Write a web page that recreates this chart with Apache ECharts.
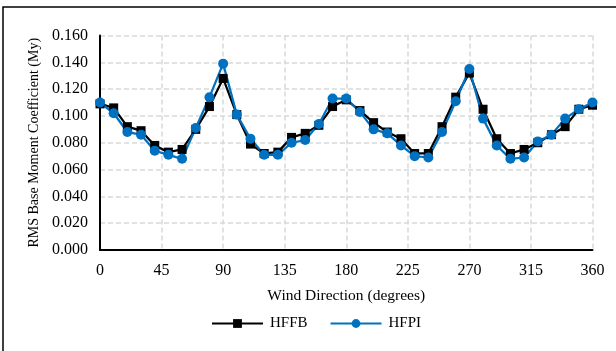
<!DOCTYPE html>
<html>
<head>
<meta charset="utf-8">
<script src="https://cdn.jsdelivr.net/npm/echarts@6/dist/echarts.min.js"></script>
<style>
  html, body { margin: 0; padding: 0; background: #fff; }
  #chart { width: 616px; height: 351px; }
</style>
</head>
<body>
<div id="chart"></div>
<script>
// Wind direction (degrees), every 10°
const directions = [0, 10, 20, 30, 40, 50, 60, 70, 80, 90, 100, 110, 120, 130, 140, 150, 160, 170, 180,
  190, 200, 210, 220, 230, 240, 250, 260, 270, 280, 290, 300, 310, 320, 330, 340, 350, 360];

// RMS base moment coefficient (My)
const hffb = [0.109, 0.106, 0.092, 0.089, 0.078, 0.073, 0.075, 0.090, 0.107, 0.128,
  0.101, 0.079, 0.072, 0.073, 0.084, 0.087, 0.093, 0.107, 0.112, 0.104,
  0.095, 0.088, 0.083, 0.072, 0.072, 0.092, 0.114, 0.132, 0.105, 0.083,
  0.072, 0.075, 0.080, 0.086, 0.092, 0.105, 0.108];
const hfpi = [0.110, 0.102, 0.088, 0.086, 0.074, 0.071, 0.068, 0.091, 0.114, 0.139,
  0.101, 0.083, 0.071, 0.071, 0.080, 0.082, 0.094, 0.113, 0.113, 0.103,
  0.090, 0.087, 0.078, 0.070, 0.069, 0.088, 0.111, 0.135, 0.098, 0.078,
  0.068, 0.069, 0.081, 0.086, 0.098, 0.105, 0.110];

const xTicks = [0, 45, 90, 135, 180, 225, 270, 315, 360];
const yTicks = [0, 0.02, 0.04, 0.06, 0.08, 0.10, 0.12, 0.14, 0.16];

const FONT = '"Liberation Serif", "Times New Roman", serif';
const pairs = (vals) => directions.map((d, i) => [d, vals[i]]);

const chart = echarts.init(document.getElementById('chart'), null, { renderer: 'canvas' });
chart.setOption({
  animation: false,
  backgroundColor: '#fff',
  textStyle: { fontFamily: FONT },
  graphic: [{
    type: 'rect',
    shape: { x: 3, y: 7, width: 640, height: 400 },
    style: { fill: 'none', stroke: '#000', lineWidth: 1.5 },
    silent: true
  }],
  grid: { left: 100, right: 23.5, top: 35.5, bottom: 101, containLabel: false },
  legend: {
    top: 311,
    left: 206,
    itemWidth: 51,
    itemHeight: 11,
    itemGap: 22,
    textStyle: { fontFamily: FONT, fontSize: 15, color: '#000', padding: [0, 0, 0, 2] },
    data: ['HFFB', 'HFPI']
  },
  xAxis: {
    type: 'value',
    min: xTicks[0],
    max: xTicks[xTicks.length - 1],
    interval: 45,
    name: 'Wind Direction (degrees)',
    nameLocation: 'middle',
    nameGap: 38,
    nameTextStyle: { fontFamily: FONT, fontSize: 15.5, color: '#000' },
    axisLine: { show: true, lineStyle: { color: '#000', width: 2 } },
    axisTick: { show: false },
    axisLabel: { fontFamily: FONT, fontSize: 16, color: '#000', margin: 13 },
    splitLine: { show: true, lineStyle: { color: '#d9d9d9', width: 1.5, type: [5, 3] } }
  },
  yAxis: {
    type: 'value',
    min: yTicks[0],
    max: yTicks[yTicks.length - 1],
    interval: 0.02,
    name: 'RMS Base Moment Coefficient (My)',
    nameLocation: 'middle',
    nameGap: 57,
    nameTextStyle: { fontFamily: FONT, fontSize: 14, color: '#000' },
    axisLine: { show: true, lineStyle: { color: '#000', width: 2 } },
    axisTick: { show: false },
    axisLabel: { fontFamily: FONT, fontSize: 16, color: '#000', margin: 12,
      formatter: (v) => v.toFixed(3) },
    splitLine: { show: true, lineStyle: { color: '#d9d9d9', width: 1.5, type: [5, 3] } }
  },
  series: [
    {
      name: 'HFFB',
      type: 'line',
      data: pairs(hffb),
      symbol: 'rect',
      symbolSize: 9,
      lineStyle: { color: '#000', width: 2.25 },
      itemStyle: { color: '#000' }
    },
    {
      name: 'HFPI',
      type: 'line',
      data: pairs(hfpi),
      symbol: 'circle',
      symbolSize: 10,
      lineStyle: { color: '#0070C0', width: 2.25 },
      itemStyle: { color: '#0070C0' }
    }
  ]
});
</script>
</body>
</html>
